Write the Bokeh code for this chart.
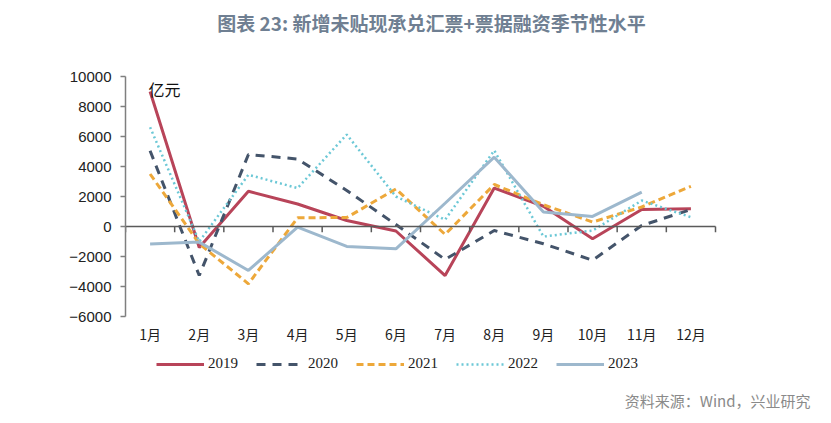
from bokeh.plotting import figure
from bokeh.layouts import column
from bokeh.models import (Range1d, FixedTicker, Legend, LegendItem, Label)
from bokeh.embed import file_html
from bokeh.resources import INLINE
import numpy as np

months = ["1月", "2月", "3月", "4月", "5月", "6月", "7月", "8月", "9月", "10月", "11月", "12月"]
s2019 = [9000, -1400, 2350, 1500, 400, -300, -3270, 2560, 1350, -820, 1130, 1180]
s2020 = [5050, -3270, 4800, 4500, 2400, 130, -2200, -270, -1150, -2250, 70, 1130]
s2021 = [3500, -1150, -3820, 580, 600, 2500, -530, 2800, 1450, 300, 1300, 2680]
s2022 = [6620, -1000, 3450, 2560, 6130, 2000, 450, 5070, -670, -270, 1730, 620]
s2023 = [-1160, -1040, -2930, -40, -1330, -1490, 1550, 4620, 960, 670, 2290, float("nan")]
years = ["2019", "2020", "2021", "2022", "2023"]
yticks = [-6000, -4000, -2000, 0, 2000, 4000, 6000, 8000, 10000]

series = [s2019, s2020, s2021, s2022, s2023]
styles = [
    dict(line_color="#b84459", line_width=3, line_dash="solid"),
    dict(line_color="#44546a", line_width=3, line_dash="9 7"),
    dict(line_color="#eda83a", line_width=3, line_dash="7 4"),
    dict(line_color="#6cc8d6", line_width=2.5, line_dash="2 3"),
    dict(line_color="#9db8cd", line_width=3, line_dash="solid"),
]

W = 823
LEFT = 125
FRAME_W = W - LEFT          # frames of stacked plots are aligned; use the full remaining width
DATA_W = 590                # pixel width of the category area
n = len(months)
x_end = 0.5 + n * FRAME_W / DATA_W


def text_strip(height, y_range=None):
    f = figure(width=W, height=height, output_backend="svg", toolbar_location=None,
               x_range=Range1d(0, 1), y_range=y_range or Range1d(0, 1),
               x_axis_location=None, y_axis_location=None,
               min_border_left=LEFT, min_border_right=0, min_border_top=0, min_border_bottom=0)
    f.grid.visible = False
    f.outline_line_color = None
    return f


# ---- title strip
T_H = 44
pt = text_strip(T_H)
pt.add_layout(Label(x=431 - LEFT, y=T_H - 22, x_units="screen", y_units="screen",
                    text="图表 23: 新增未贴现承兑汇票+票据融资季节性水平",
                    text_font="Noto Sans CJK SC", text_font_style="bold", text_font_size="19px",
                    text_color="#6f7f92", text_align="center", text_baseline="middle"))

# ---- main chart
p = figure(frame_width=FRAME_W, frame_height=240, output_backend="svg", toolbar_location=None,
           x_range=Range1d(0.5, x_end), y_range=Range1d(yticks[0], yticks[-1]),
           min_border_left=LEFT, min_border_right=0, min_border_top=32, min_border_bottom=34)
p.outline_line_color = None
p.grid.visible = False

x = np.arange(1, n + 1)
for s, st in zip(series, styles):
    p.line(x, s, **st)

# zero line across the category area and boundary ticks below it
bounds = np.arange(n + 1) + 0.5
p.segment(x0=[bounds[0]], y0=[0], x1=[bounds[-1]], y1=[0], line_color="#5a5a5a", line_width=1.5)
p.segment(x0=bounds, y0=[0] * len(bounds), x1=bounds, y1=[-380] * len(bounds),
          line_color="#5a5a5a", line_width=1.5)

xa = p.xaxis[0]
xa.ticker = FixedTicker(ticks=list(x))
xa.major_label_overrides = {int(i): m for i, m in zip(x, months)}
xa.axis_line_color = None
xa.major_tick_line_color = None
xa.minor_tick_line_color = None
xa.major_label_standoff = 1
xa.major_label_text_font = "Noto Sans CJK SC"
xa.major_label_text_font_size = "14px"
xa.major_label_text_color = "#222222"

ya = p.yaxis[0]
ya.ticker = FixedTicker(ticks=yticks)
ya.axis_line_color = "#7f7f7f"
ya.axis_line_width = 1.5
ya.major_tick_line_color = "#7f7f7f"
ya.major_tick_line_width = 1.5
ya.major_tick_out = 5
ya.major_tick_in = 0
ya.minor_tick_line_color = None
ya.major_label_standoff = 9
ya.major_label_text_font = "Liberation Sans"
ya.major_label_text_font_size = "15px"
ya.major_label_text_color = "#222222"

p.add_layout(Label(x=23, y=228, x_units="screen", y_units="screen", text="亿元",
                   text_font="Noto Sans CJK SC", text_font_size="16px", text_color="#111111",
                   text_align="left", text_baseline="middle"))

# ---- legend + source strip (series drawn here outside its visible range, only for legend glyphs)
B_H = 70
pb = text_strip(B_H, y_range=Range1d(yticks[-1] * 3, yticks[-1] * 3 + 1))
legend_renderers = [pb.line(x, s, **st) for s, st in zip(series, styles)]
items = [LegendItem(label=yr, renderers=[r]) for yr, r in zip(years, legend_renderers)]
legend = Legend(items=items, orientation="horizontal", location=(156 - LEFT, B_H - 22),
                glyph_width=48, glyph_height=16, label_standoff=4, spacing=18, padding=0,
                margin=0, border_line_color=None, background_fill_alpha=0,
                label_text_font="Liberation Serif", label_text_font_size="15px",
                label_text_color="#222222")
pb.add_layout(legend, "center")
pb.add_layout(Label(x=810 - LEFT, y=B_H - 50, x_units="screen", y_units="screen",
                    text="资料来源：Wind，兴业研究",
                    text_font="Noto Sans CJK SC", text_font_size="15px", text_color="#8a8a8a",
                    text_align="right", text_baseline="middle"))

layout = column(pt, p, pb, spacing=0)
open("out.html", "w").write(file_html(layout, INLINE))
